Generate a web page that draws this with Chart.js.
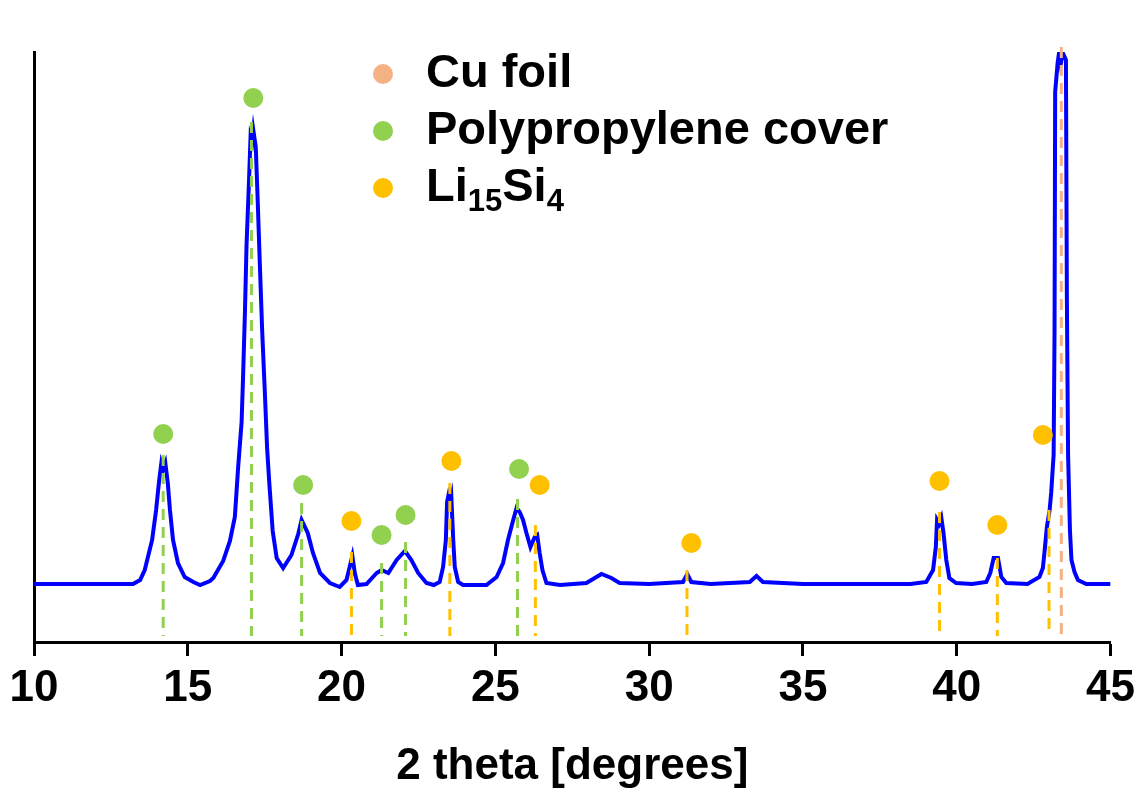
<!DOCTYPE html>
<html>
<head>
<meta charset="utf-8">
<script src="https://cdn.jsdelivr.net/npm/chart.js@4.4.1/dist/chart.umd.min.js"></script>
<style>
  html, body { margin: 0; padding: 0; background: #fff; }
  #wrap { width: 1141px; height: 791px; position: relative; }
</style>
</head>
<body>
<div id="wrap"><canvas id="xrd"></canvas></div>
<script>
/* ---- XRD pattern (2 theta in degrees, intensity in arb. units) ---- */
const twoTheta = [
    10.0, 11.0, 12.0, 12.8, 13.22, 13.45, 13.6, 13.84, 13.97, 14.06, 14.14, 14.2, 14.27,
    14.35, 14.42, 14.52, 14.68, 14.9, 15.18, 15.4, 15.72, 15.83, 16.15, 16.37, 16.53,
    16.64, 16.75, 16.8, 16.86, 16.91, 16.99, 17.04, 17.09, 17.13, 17.21, 17.27, 17.34,
    17.42, 17.51, 17.58, 17.65, 17.76, 17.89, 18.1, 18.37, 18.59, 18.7, 18.9, 19.07,
    19.3, 19.62, 19.94, 20.16, 20.35, 20.43, 20.53, 20.81, 21.14, 21.3, 21.52, 21.79,
    22.06, 22.27, 22.49, 22.76, 23.0, 23.19, 23.3, 23.39, 23.43, 23.47, 23.53, 23.57,
    23.63, 23.68, 23.79, 23.95, 24.71, 25.04, 25.25, 25.41, 25.58, 25.69, 25.79, 25.9,
    26.01, 26.14, 26.28, 26.36, 26.44, 26.53, 26.66, 27.1, 27.96, 28.45, 28.77, 29.04,
    30.0, 31.1, 31.24, 31.37, 32.0, 33.27, 33.49, 33.7, 35.0, 37.0, 38.5, 39.01, 39.23,
    39.32, 39.36, 39.43, 39.5, 39.57, 39.66, 39.76, 39.98, 40.5, 40.96, 41.09, 41.2,
    41.34, 41.45, 41.61, 42.3, 42.69, 42.8, 42.86, 42.93, 43.02, 43.07, 43.15, 43.18,
    43.2, 43.28, 43.33, 43.38, 43.45, 43.55, 43.58, 43.62, 43.68, 43.73, 43.83, 43.94,
    44.21, 45.0
];
const intensity = [
    58, 58, 58, 58, 58, 62, 72, 102, 132, 159, 179, 173, 179,
    159, 132, 102, 79, 65, 60, 57, 61, 64, 81, 101, 125,
    176, 220, 268, 332, 397, 461, 505, 500, 512, 495, 444, 380,
    310, 246, 193, 159, 111, 84, 74, 87, 108, 122, 109, 89,
    69, 59, 55, 62, 86, 69, 57, 58, 69, 72, 69, 82,
    91, 82, 69, 59, 57, 60, 75, 102, 140, 146, 138, 144,
    102, 75, 60, 57, 57, 65, 79, 102, 122, 134, 130, 122,
    109, 95, 105, 107, 89, 72, 59, 57, 59, 68, 64, 59,
    58, 60, 68, 60, 58, 60, 66, 60, 58, 58, 58, 60, 72,
    95, 122, 118, 124, 109, 82, 64, 59, 58, 60, 69, 84,
    84, 65, 59, 58, 65, 74, 92, 115, 132, 149, 187, 312,
    550, 579, 590, 578, 589, 582, 347, 187, 112, 82, 70, 62,
    58, 58
];

/* ---- reference reflections: dashed guide (x, top) and marker dot (x, y) ---- */
const cuLineX = [43.4];
const cuLineTop = [595];
const cuDotX = [43.34];
const cuDotY = [619];

const ppLineX = [14.2, 17.07, 18.7, 21.3, 22.08, 25.72];
const ppLineTop = [187, 520, 139, 79, 100, 143];
const ppDotX = [14.2, 17.13, 18.75, 21.3, 22.08, 25.77];
const ppDotY = [208, 544, 157, 107, 127, 173];

const liLineX = [20.32, 23.52, 26.3, 31.23, 39.44, 41.32, 43.0];
const liLineTop = [90, 159, 117, 72, 130, 84, 132];
const liDotX = [20.32, 23.57, 26.44, 31.37, 39.44, 41.32, 42.8];
const liDotY = [121, 181, 157, 99, 161, 117, 207];

const xTickMin = 10;
const xTickMax = 45;
const xTickStep = 5;
const yMax = 590;
const guideBottom = 6;

const COLORS = {
    trace: '#0000ff',
    cu: '#f4b183',
    pp: '#92d050',
    li: '#ffc000',
};
const FONT = '"Liberation Sans", Arial, Helvetica, sans-serif';

function toPoints(xs, ys) {
    return xs.map((x, i) => ({ x, y: ys[i] }));
}

// one dataset per phase; null points break the line between guides
function guidePoints(xs, tops) {
    const pts = [];
    xs.forEach((x, i) => {
        pts.push({ x, y: tops[i] }, { x, y: guideBottom }, { x, y: null });
    });
    return pts;
}

function dotSet(label, xs, ys, color) {
    return {
        label,
        data: toPoints(xs, ys),
        showLine: false,
        pointRadius: 10,
        pointHoverRadius: 10,
        pointBorderWidth: 0,
        backgroundColor: color,
        borderColor: color,
        clip: false,
    };
}

function guideSet(xs, tops, color) {
    return {
        data: guidePoints(xs, tops),
        showLine: true,
        spanGaps: false,
        borderColor: color,
        borderWidth: 3,
        borderDash: [11, 7],
        pointRadius: 0,
        clip: false,
    };
}

// hand-drawn legend so the formula can carry subscripts
const legendRows = [
    { color: COLORS.cu, parts: [['Cu foil', false]] },
    { color: COLORS.pp, parts: [['Polypropylene cover', false]] },
    { color: COLORS.li, parts: [['Li', false], ['15', true], ['Si', false], ['4', true]] },
];

const phaseLegend = {
    id: 'phaseLegend',
    afterDraw(chart) {
        const ctx = chart.ctx;
        const dotX = 383, textX = 426, firstY = 74, rowGap = 57;
        ctx.save();
        legendRows.forEach((row, i) => {
            const cy = firstY + i * rowGap;
            ctx.beginPath();
            ctx.arc(dotX, cy, 10, 0, Math.PI * 2);
            ctx.fillStyle = row.color;
            ctx.fill();

            let x = textX;
            const base = cy + 13;
            ctx.fillStyle = '#000';
            ctx.textBaseline = 'alphabetic';
            row.parts.forEach(([txt, sub]) => {
                ctx.font = `bold ${sub ? 31 : 47}px ${FONT}`;
                ctx.fillText(txt, x, sub ? base + 10 : base);
                x += ctx.measureText(txt).width;
            });
        });
        ctx.restore();
    },
};

const ctx = document.getElementById('xrd');

new Chart(ctx, {
    type: 'scatter',
    data: {
        datasets: [
            dotSet('Cu foil', cuDotX, cuDotY, COLORS.cu),
            dotSet('Polypropylene cover', ppDotX, ppDotY, COLORS.pp),
            dotSet('Li15Si4', liDotX, liDotY, COLORS.li),
            guideSet(cuLineX, cuLineTop, COLORS.cu),
            guideSet(ppLineX, ppLineTop, COLORS.pp),
            guideSet(liLineX, liLineTop, COLORS.li),
            {
                data: toPoints(twoTheta, intensity),
                showLine: true,
                borderColor: COLORS.trace,
                borderWidth: 4,
                pointRadius: 0,
                tension: 0,
            },
        ],
    },
    options: {
        responsive: true,
        maintainAspectRatio: false,
        animation: false,
        layout: { padding: { top: 52, right: 30, left: 0, bottom: 0 } },
        scales: {
            x: {
                type: 'linear',
                min: xTickMin,
                max: xTickMax,
                ticks: {
                    stepSize: xTickStep,
                    autoSkip: false,
                    maxRotation: 0,
                    padding: 6,
                    color: '#000',
                    font: { family: FONT, size: 44, weight: 'bold' },
                },
                grid: {
                    display: true,
                    drawOnChartArea: false,
                    drawTicks: true,
                    tickLength: 14,
                    tickWidth: 3,
                    tickColor: '#000',
                },
                border: { display: true, color: '#000', width: 3 },
                title: {
                    display: true,
                    text: '2 theta [degrees]',
                    color: '#000',
                    font: { family: FONT, size: 44, weight: 'bold', lineHeight: 1.1 },
                    padding: { top: 0, bottom: 0 },
                },
                afterFit: (scale) => { scale.height = 149; },
            },
            y: {
                min: 0,
                max: yMax,
                ticks: { display: false },
                grid: { display: false },
                border: { display: true, color: '#000', width: 3 },
                afterFit: (scale) => { scale.width = 34; },
            },
        },
        plugins: {
            legend: { display: false },
            tooltip: { enabled: false },
        },
    },
    plugins: [phaseLegend],
});
</script>
</body>
</html>
